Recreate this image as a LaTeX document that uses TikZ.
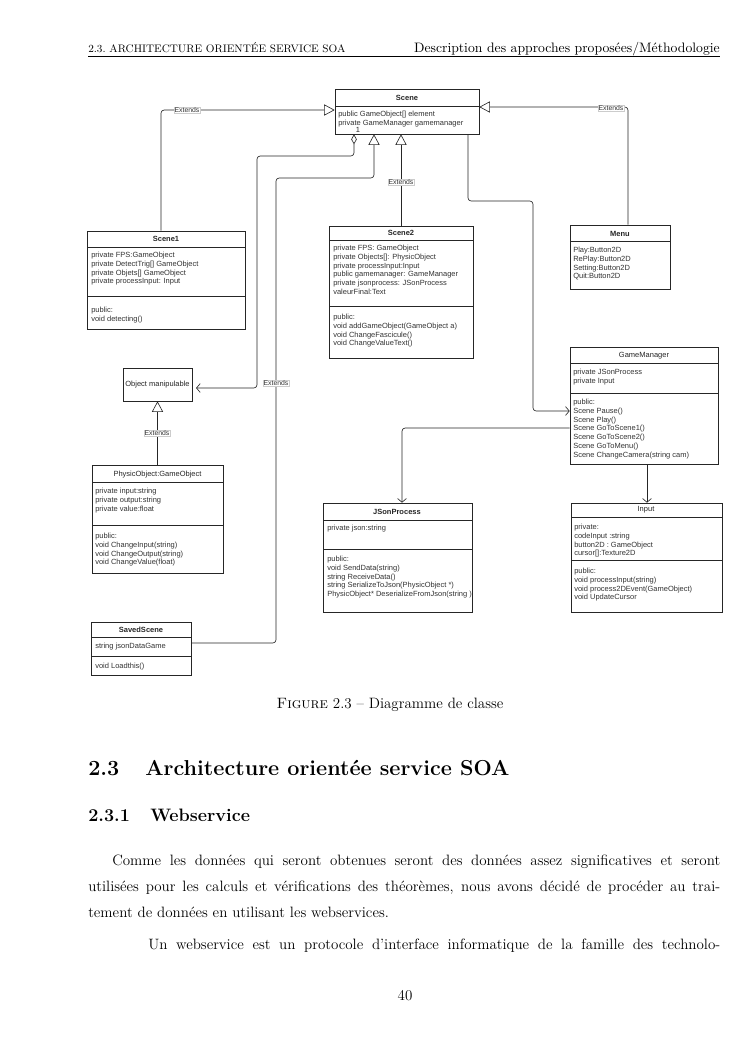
\documentclass[tikz,border=0pt]{standalone}
\usepackage{fontspec}
\newfontfamily\umlfont{Liberation Sans}
\usetikzlibrary{arrows.meta,fit}

\tikzset{
  classbox/.style={draw=black!85, line width=0.5pt, inner sep=0pt, fit={#1}},
  classtitle/.style={font=\umlfont\fontsize{6}{7}\selectfont\bfseries, text=black!85, inner sep=0pt},
  plaintitle/.style={font=\umlfont\fontsize{6}{7}\selectfont, text=black!85, inner sep=0pt},
  members/.style={font=\umlfont\fontsize{6}{7}\selectfont, text=black!80, align=left, inner sep=0pt, anchor=north west},
  sepline/.style={draw=black!85, line width=0.5pt},
  extends/.style={draw=black!85, line width=0.5pt, rounded corners=2.5pt, -{Triangle[open, length=8.5pt, width=9pt]}},
  assoc/.style={draw=black!85, line width=0.5pt, rounded corners=2.5pt, -{Straight Barb[length=3pt, width=7pt]}},
  aggr/.style={assoc, {Diamond[open, length=8pt, width=4.5pt]}-{Straight Barb[length=3pt, width=7pt]}},
  lbl/.style={font=\umlfont\fontsize{5.5}{6}\selectfont, text=black!80, fill=white, draw=black!20, line width=0.3pt, inner sep=0.6pt},
  bodytext/.style={font=\fontsize{12}{14}\selectfont, inner sep=0pt, anchor=base west},
}

\begin{document}
\begin{tikzpicture}[x=0.8pt,y=-0.8pt]
\fill[white] (0,0) rectangle (745,1053);

\node[font=\fontsize{8.7}{10.5}\selectfont, inner sep=0pt, anchor=base west] (headl) at (88,52) {2.3.\ ARCHITECTURE ORIENTÉE SERVICE SOA};
\node[font=\fontsize{10.95}{13.6}\selectfont, inner sep=0pt, anchor=base east] (headr) at (720,52) {Description des approches proposées/Méthodologie};
\draw[line width=0.5pt] (88,56.5) -- (720,56.5);

\node[classbox={(335,89) (479,134)}] (scene) {};
\node[classtitle] (scenet) at (407,98) {Scene};
\draw[sepline] (335,106) -- (479,106);
\node[members] (scenea) at (338,111) {public GameObject[] element\\private GameManager gamemanager};
\node[plaintitle] (mult) at (358,129.5) {1};

\node[classbox={(87,231) (245,329)}] (scene1) {};
\node[classtitle] (scene1t) at (166,239) {Scene1};
\draw[sepline] (87,247) -- (245,247);
\node[members] (scene1a) at (91,252) {private FPS:GameObject\\private DetectTrig[] GameObject\\private Objets[] GameObject\\private processInput: Input};
\draw[sepline] (87,296) -- (245,296);
\node[members] (scene1m) at (91,307) {public:\\void detecting()};

\node[classbox={(329,226) (473,358)}] (scene2) {};
\node[classtitle] (scene2t) at (401,233) {Scene2};
\draw[sepline] (329,240) -- (473,240);
\node[members] (scene2a) at (333,245) {private FPS: GameObject\\private Objects[]: PhysicObject\\private processInput:Input\\public gamemanager: GameManager\\private jsonprocess: JSonProcess\\valeurFinal:Text};
\draw[sepline] (329,306) -- (473,306);
\node[members] (scene2m) at (333,314) {public:\\void addGameObject(GameObject a)\\void ChangeFascicule()\\void ChangeValueText()};

\node[classbox={(570,225) (670,289)}] (menu) {};
\node[classtitle] (menut) at (620,234) {Menu};
\draw[sepline] (570,241) -- (670,241);
\node[members] (menua) at (573,247) {Play:Button2D\\RePlay:Button2D\\Setting:Button2D\\Quit:Button2D};

\node[classbox={(570,347) (718,464)}] (gamemanager) {};
\node[plaintitle] (gamemanagert) at (644,356) {GameManager};
\draw[sepline] (570,363) -- (718,363);
\node[members] (gamemanagera) at (573,369) {private JSonProcess\\private Input};
\draw[sepline] (570,393) -- (718,393);
\node[members] (gamemanagerm) at (573,399) {public:\\Scene Pause()\\Scene Play()\\Scene GoToScene1()\\Scene GoToScene2()\\Scene GoToMenu()\\Scene ChangeCamera(string cam)};

\node[classbox={(323,503) (472,612)}] (jsonprocess) {};
\node[classtitle] (jsonprocesst) at (397,512) {JSonProcess};
\draw[sepline] (323,520) -- (472,520);
\node[members] (jsonprocessa) at (327,525) {private json:string};
\draw[sepline] (323,549) -- (472,549);
\node[members] (jsonprocessm) at (327,556) {public:\\void SendData(string)\\string ReceiveData()\\string SerializeToJson(PhysicObject *)\\PhysicObject* DeserializeFromJson(string )};

\node[classbox={(571,503) (722,612)}] (input) {};
\node[plaintitle] (inputt) at (646,510) {Input};
\draw[sepline] (571,517) -- (722,517);
\node[members] (inputa) at (574,524) {private:\\codeInput :string\\button2D : GameObject\\cursor[]:Texture2D};
\draw[sepline] (571,560) -- (722,560);
\node[members] (inputm) at (574,568) {public:\\void processInput(string)\\void process2DEvent(GameObject)\\void UpdateCursor};

\node[classbox={(123,368) (192,401)}] (objman) {};
\node[plaintitle] (objmant) at (157.5,385) {Object manipulable};

\node[classbox={(92,465) (223,573)}] (physicobject) {};
\node[plaintitle] (physicobjectt) at (157.5,475) {PhysicObject:GameObject};
\draw[sepline] (92,482) -- (223,482);
\node[members] (physicobjecta) at (95,488) {private input:string\\private output:string\\private value:float};
\draw[sepline] (92,525) -- (223,525);
\node[members] (physicobjectm) at (95,533) {public:\\void ChangeInput(string)\\void ChangeOutput(string)\\void ChangeValue(float)};

\node[classbox={(91,622) (191,675)}] (savedscene) {};
\node[classtitle] (savedscenet) at (141,630) {SavedScene};
\draw[sepline] (91,637) -- (191,637);
\node[members] (savedscenea) at (95,643) {string jsonDataGame};
\draw[sepline] (91,656) -- (191,656);
\node[members] (savedscenem) at (95,663) {void Loadthis()};

\coordinate (k1) at (161,110);
\coordinate (k2) at (628,107);
\coordinate (k3) at (401,182);
\coordinate (k4) at (276,643);
\coordinate (k5) at (374,178);
\coordinate (k6) at (354,156);
\coordinate (k7) at (257,156);
\coordinate (k8) at (257,388);
\coordinate (k9) at (468,201);
\coordinate (k10) at (533,201);
\coordinate (k11) at (533,411);
\coordinate (k12) at (402,428);
\coordinate (k13) at (647,480);

\draw[extends] (scene1.north -| k1) |- (scene.west |- k1);
\draw[extends] (menu.north -| k2) |- (scene.east |- k2);
\draw[extends] (scene2.north -| k3) -- (scene.south -| k3);
\draw[extends] (savedscene.east |- k4) -- (k4) |- (k5) -- (scene.south -| k5);
\draw[extends] (physicobject.north) -- (objman.south);
\draw[aggr, shorten >=3pt] (scene.south -| k6) -- (k6) -- (k7) -- (k8) -- (objman.east |- k8);
\draw[assoc] (scene.south -| k9) -- (k9) -- (k10) -- (k11) -- (gamemanager.west |- k11);
\draw[assoc] (gamemanager.west |- k12) -| (jsonprocess.north -| k12);
\draw[assoc] (gamemanager.south -| k13) -- (input.north -| k13);

\node[lbl] (l1) at (187,110) {Extends};
\node[lbl] (l2) at (611,108) {Extends};
\node[lbl] (l3) at (k3) {Extends};
\node[lbl] (l4) at (276,383) {Extends};
\node[lbl] (l5) at (157,433) {Extends};

\node[font=\fontsize{12}{14}\selectfont, inner sep=0pt, anchor=base] (caption) at (390,708) {\textsc{Figure} 2.3 -- Diagramme de classe};

\node[font=\fontsize{17.28}{21}\selectfont\bfseries, inner sep=0pt, anchor=base west] (secnum) at (88,775) {2.3};
\node[font=\fontsize{17.28}{21}\selectfont\bfseries, inner sep=0pt, anchor=base west] (sectitle) at (145,775) {Architecture orientée service SOA};
\node[font=\fontsize{14.4}{17}\selectfont\bfseries, inner sep=0pt, anchor=base west] (subnum) at (88,821) {2.3.1};
\node[font=\fontsize{14.4}{17}\selectfont\bfseries, inner sep=0pt, anchor=base west] (subtitle) at (150,821) {Webservice};

\node[bodytext] (par1) at (112,865) {\makebox[486.4pt][s]{Comme les données qui seront obtenues seront des données assez significatives et seront}};
\node[bodytext] (par2) at (88,891) {\makebox[505.6pt][s]{utilisées pour les calculs et vérifications des théorèmes, nous avons décidé de procéder au trai-}};
\node[bodytext] (par3) at (88,917) {tement de données en utilisant les webservices.};
\node[bodytext] (par4) at (148,949) {\makebox[457.6pt][s]{Un webservice est un protocole d'interface informatique de la famille des technolo-}};

\node[font=\fontsize{12}{14}\selectfont, inner sep=0pt, anchor=base] (pagenum) at (405,1000) {40};
\end{tikzpicture}
\end{document}
